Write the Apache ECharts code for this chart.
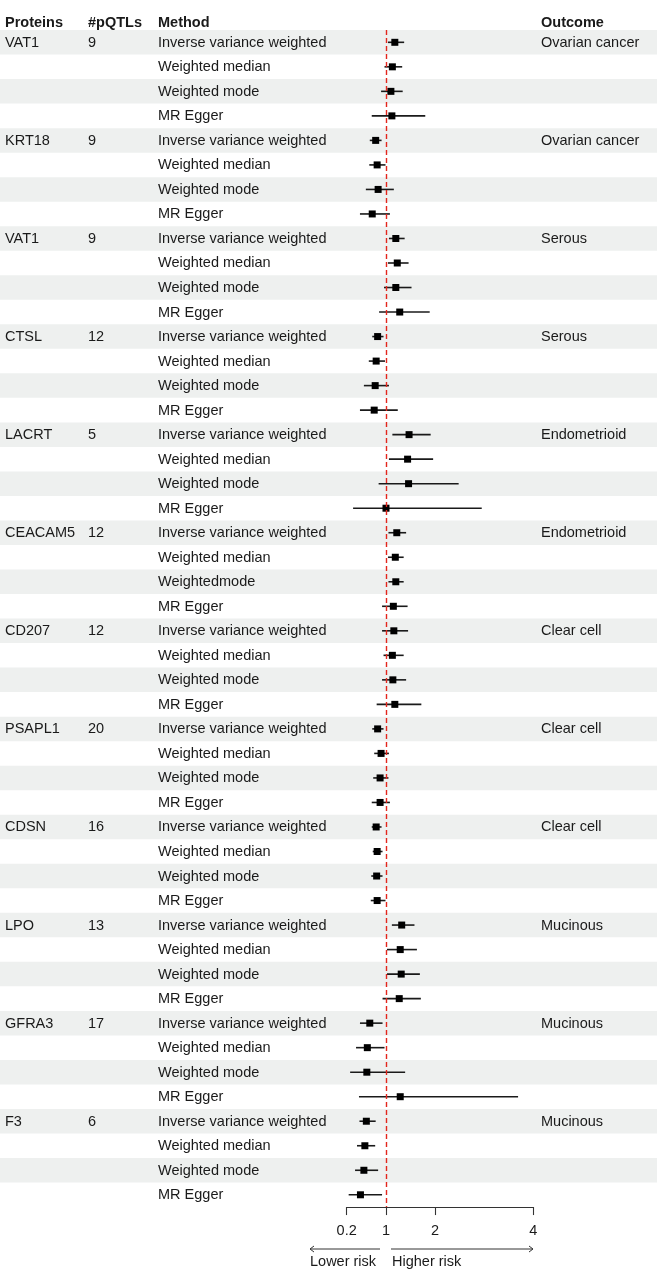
<!DOCTYPE html>
<html>
<head>
<meta charset="utf-8">
<script src="https://cdn.jsdelivr.net/npm/echarts@6/dist/echarts.min.js"></script>
<style>
html,body{margin:0;padding:0;background:#fff;}
#chart{width:657px;height:1271px;}
</style>
</head>
<body>
<div id="chart"></div>
<script>
// ---- data ----
const proteins = ['VAT1','KRT18','VAT1','CTSL','LACRT','CEACAM5','CD207','PSAPL1','CDSN','LPO','GFRA3','F3'];
const nPQTLs = [9,9,9,12,5,12,12,20,16,13,17,6];
const outcomes = ['Ovarian cancer','Ovarian cancer','Serous','Serous','Endometrioid','Endometrioid','Clear cell','Clear cell','Clear cell','Mucinous','Mucinous','Mucinous'];
const methods = ['Inverse variance weighted','Weighted median','Weighted mode','MR Egger'];
// method label as printed (CEACAM5 row shows "Weightedmode")
const methodOverrides = {22: 'Weightedmode'};
const estimate = [1.18,1.13,1.10,1.12, 0.79,0.82,0.84,0.72, 1.20,1.23,1.20,1.28, 0.83,0.80,0.78,0.76,
                  1.47,1.44,1.46,1.00, 1.22,1.19,1.20,1.15, 1.16,1.13,1.14,1.18, 0.83,0.90,0.88,0.88,
                  0.80,0.82,0.81,0.82, 1.32,1.29,1.31,1.27, 0.67,0.62,0.61,1.29, 0.60,0.57,0.55,0.48];
const lower = [1.04,0.97,0.90,0.71, 0.67,0.66,0.59,0.47, 1.06,1.04,0.96,0.86, 0.72,0.65,0.55,0.47,
               1.13,1.06,0.85,0.33, 1.05,1.04,1.05,0.92, 0.92,0.95,0.92,0.81, 0.72,0.76,0.74,0.71,
               0.71,0.73,0.70,0.69, 1.12,1.02,1.02,0.93, 0.47,0.39,0.27,0.45, 0.46,0.41,0.37,0.24];
const upper = [1.37,1.33,1.34,1.80, 0.91,0.99,1.16,1.08, 1.38,1.46,1.52,1.89, 0.95,0.98,1.06,1.24,
               1.91,1.96,2.48,2.95, 1.41,1.36,1.36,1.44, 1.45,1.36,1.41,1.72, 0.95,1.06,1.05,1.08,
               0.91,0.93,0.93,0.99, 1.58,1.63,1.69,1.71, 0.93,0.97,1.39,3.69, 0.79,0.78,0.84,0.92];
const xTicks = [0.2, 1, 2, 4];
const headers = ['Proteins', '#pQTLs', 'Method', 'Outcome'];

// ---- build rows ----
const rows = [];
proteins.forEach((p, g) => {
  methods.forEach((m, k) => {
    const i = g * 4 + k;
    rows.push({
      protein: k === 0 ? p : '',
      n: k === 0 ? String(nPQTLs[g]) : '',
      method: methodOverrides[i] || m,
      outcome: k === 0 ? outcomes[g] : ''
    });
  });
});
const cats = rows.map((r, i) => String(i));

const FONT = '"Liberation Sans", Arial, Helvetica, sans-serif';
const FS = 14.5;
const TXT = '#1a1a1a';
const colX = [5, 88, 158, 541];

const GRID_TOP = 30.05;
const GRID_H = 1177;
const chart = echarts.init(document.getElementById('chart'), null, {renderer: 'canvas'});

const option = {
  animation: false,
  backgroundColor: '#fff',
  grid: [
    {left: 346.7, right: 123.7, top: GRID_TOP, height: GRID_H, containLabel: false},
    {left: 0, right: 0, top: GRID_TOP, height: GRID_H, containLabel: false}
  ],
  xAxis: [
    {
      type: 'value', gridIndex: 0, min: 0.2, max: 4, position: 'bottom',
      axisLine: {show: true, onZero: false, lineStyle: {color: '#333', width: 1.1}},
      axisTick: {show: true, customValues: xTicks, length: 8, lineStyle: {color: '#333', width: 1.1}},
      axisLabel: {show: true, customValues: xTicks, margin: 16, color: TXT, fontSize: FS, fontFamily: FONT,
                  formatter: v => String(v)},
      splitLine: {show: false}
    },
    {type: 'value', gridIndex: 1, min: 0, max: 1, show: false}
  ],
  yAxis: [
    {type: 'category', gridIndex: 0, data: cats, inverse: true, show: false},
    {type: 'category', gridIndex: 1, data: cats, inverse: true, show: false}
  ],
  series: [
    {
      type: 'bar', xAxisIndex: 1, yAxisIndex: 1, z: 0, silent: true,
      barWidth: '100%', barGap: '-100%',
      itemStyle: {color: '#eef0ef'},
      data: rows.map((r, i) => (i % 2 === 0 ? 1 : '-'))
    },
    {
      type: 'custom', xAxisIndex: 1, yAxisIndex: 1, z: 1, silent: true,
      data: rows.map((r, i) => [0, i]),
      encode: {x: 0, y: 1},
      renderItem: (params, api) => {
        const i = api.value(1);
        const y = api.coord([0, i])[1] + 0.5;
        const r = rows[i];
        const vals = [r.protein, r.n, r.method, r.outcome];
        return {
          type: 'group',
          children: vals.map((t, c) => ({
            type: 'text',
            style: {text: t, x: colX[c], y: y, fill: TXT, fontSize: FS, fontFamily: FONT,
                    align: 'left', verticalAlign: 'middle'}
          }))
        };
      }
    },
    {
      type: 'custom', xAxisIndex: 0, yAxisIndex: 0, z: 3, silent: true, clip: false,
      data: rows.map((r, i) => [i, lower[i], upper[i], estimate[i]]),
      encode: {y: 0, x: [1, 2, 3]},
      renderItem: (params, api) => {
        const i = api.value(0);
        const p1 = api.coord([api.value(1), i]);
        const p2 = api.coord([api.value(2), i]);
        const pe = api.coord([api.value(3), i]);
        const s = 7;
        return {
          type: 'group',
          children: [
            {type: 'line', shape: {x1: p1[0], y1: p1[1], x2: p2[0], y2: p2[1]},
             style: {stroke: '#1a1a1a', lineWidth: 1.6}},
            {type: 'rect', shape: {x: pe[0] - s / 2, y: pe[1] - s / 2, width: s, height: s},
             style: {fill: '#000'}}
          ]
        };
      },
      markLine: {
        silent: true, symbol: 'none', animation: false,
        label: {show: false},
        lineStyle: {color: '#e3261d', type: [5, 3], width: 1.4},
        data: [{xAxis: 1}]
      }
    }
  ],
  graphic: [
    ...headers.map((h, c) => ({
      type: 'text', left: colX[c], top: 15, z: 10,
      style: {text: h, x: 0, y: 0, fill: TXT, fontSize: FS, fontWeight: 'bold', fontFamily: FONT,
              verticalAlign: 'middle'}
    })),
    // arrows
    {type: 'line', z: 10, shape: {x1: 380, y1: 1249, x2: 310, y2: 1249}, style: {stroke: '#333', lineWidth: 1}},
    {type: 'polyline', z: 10, shape: {points: [[314, 1246], [310, 1249], [314, 1252]]}, style: {stroke: '#333', lineWidth: 1, fill: null}},
    {type: 'line', z: 10, shape: {x1: 391, y1: 1249, x2: 533, y2: 1249}, style: {stroke: '#333', lineWidth: 1}},
    {type: 'polyline', z: 10, shape: {points: [[529, 1246], [533, 1249], [529, 1252]]}, style: {stroke: '#333', lineWidth: 1, fill: null}},
    {type: 'text', z: 10, style: {text: 'Lower risk', x: 310, y: 1262, fill: TXT, fontSize: FS, fontFamily: FONT, verticalAlign: 'middle'}},
    {type: 'text', z: 10, style: {text: 'Higher risk', x: 392, y: 1262, fill: TXT, fontSize: FS, fontFamily: FONT, verticalAlign: 'middle'}}
  ]
};
chart.setOption(option);
</script>
</body>
</html>
